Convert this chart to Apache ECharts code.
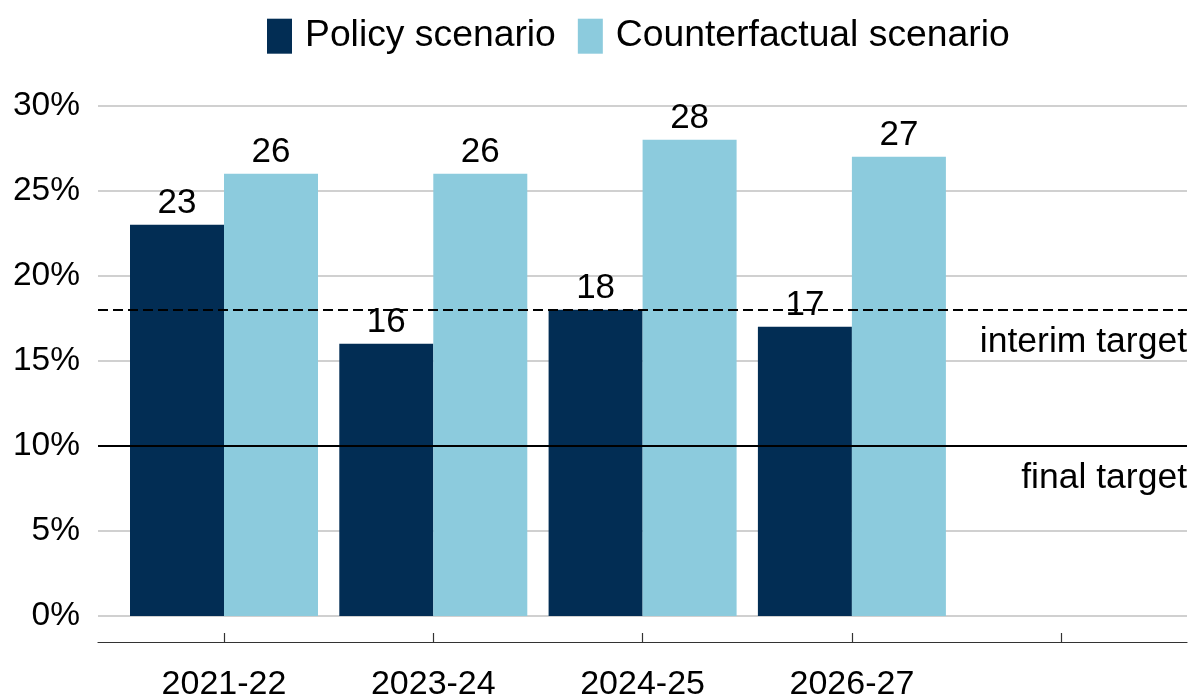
<!DOCTYPE html>
<html>
<head>
<meta charset="utf-8">
<script src="https://cdn.jsdelivr.net/npm/echarts@6/dist/echarts.min.js"></script>
<style>
html,body{margin:0;padding:0;background:#fff;}
#c{width:1189px;height:695px;}
</style>
</head>
<body>
<div id="c"></div>
<script>
const categories = ['2021-22', '2023-24', '2024-25', '2026-27', ''];
const policyValues = [23, 16, 18, 17, null];
const counterfactualValues = [26, 26, 28, 27, null];
const yTicks = [0, 5, 10, 15, 20, 25, 30];
const interimTarget = 18;
const finalTarget = 10;

const FONT = '"Liberation Sans", Arial, sans-serif';
const DARK = '#022d54';
const LIGHT = '#8ccbdd';

const chart = echarts.init(document.getElementById('c'));
const gridTop = 105.7, gridBottom = 79;
chart.setOption({
  animation: false,
  backgroundColor: '#fff',
  textStyle: { fontFamily: FONT },
  legend: {
    data: ['Policy scenario', 'Counterfactual scenario'],
    left: 267, top: 17.7, padding: 0,
    itemWidth: 25, itemHeight: 35, itemGap: 22,
    icon: 'rect',
    textStyle: { fontSize: 37.3, color: '#000', fontFamily: FONT, padding: [3, 0, 0, 8] }
  },
  grid: [
    { left: 98, right: 2, top: gridTop, bottom: gridBottom, outerBoundsMode: 'none', containLabel: false },
    { left: 119.35, right: 23.15, top: gridTop, bottom: gridBottom, outerBoundsMode: 'none', containLabel: false }
  ],
  xAxis: [
    { type: 'category', gridIndex: 0, data: [''], offset: 26, position: 'bottom',
      axisLine: { show: true, onZero: false, lineStyle: { color: '#333', width: 1.2 } },
      axisTick: { show: false }, axisLabel: { show: false }, splitLine: { show: false } },
    { type: 'category', gridIndex: 1, data: categories, offset: 26, position: 'bottom',
      axisLine: { show: false, onZero: false },
      axisTick: { show: true, inside: true, length: 9, alignWithLabel: true, interval: 0,
        lineStyle: { color: '#333', width: 1.2 } },
      axisLabel: { interval: 0, fontSize: 34, color: '#000', margin: 26, fontFamily: FONT } }
  ],
  yAxis: [
    { type: 'value', gridIndex: 0, min: yTicks[0], max: yTicks[yTicks.length - 1], interval: 5,
      axisLine: { show: false }, axisTick: { show: false },
      axisLabel: { formatter: '{value}%', fontSize: 33.5, color: '#000', margin: 18, fontFamily: FONT },
      splitLine: { show: true, lineStyle: { color: '#d0d0d0', width: 2 } } },
    { type: 'value', gridIndex: 1, min: yTicks[0], max: yTicks[yTicks.length - 1], interval: 5, show: false,
      splitLine: { show: false } }
  ],
  series: [
    { name: 'Policy scenario', type: 'bar', xAxisIndex: 1, yAxisIndex: 1, data: policyValues,
      barWidth: 94, barGap: '0%', itemStyle: { color: DARK },
      label: { show: true, position: 'top', distance: 4, fontSize: 35, color: '#000', fontFamily: FONT } },
    { name: 'Counterfactual scenario', type: 'bar', xAxisIndex: 1, yAxisIndex: 1, data: counterfactualValues,
      barWidth: 94, barGap: '0%', itemStyle: { color: LIGHT },
      label: { show: true, position: 'top', distance: 4, fontSize: 35, color: '#000', fontFamily: FONT } },
    { name: 'targets', type: 'line', xAxisIndex: 0, yAxisIndex: 0, data: [], z: 5,
      markLine: {
        silent: true, symbol: 'none', animation: false,
        data: [
          { yAxis: interimTarget, lineStyle: { color: '#000', width: 2, type: [10, 5] },
            label: { show: true, formatter: 'interim target', position: 'insideEndBottom',
              distance: [0, 14], fontSize: 35.5, color: '#000', fontFamily: FONT } },
          { yAxis: finalTarget, lineStyle: { color: '#000', width: 2, type: 'solid' },
            label: { show: true, formatter: 'final target', position: 'insideEndBottom',
              distance: [0, 14], fontSize: 35.5, color: '#000', fontFamily: FONT } }
        ]
      }
    }
  ]
});
</script>
</body>
</html>
